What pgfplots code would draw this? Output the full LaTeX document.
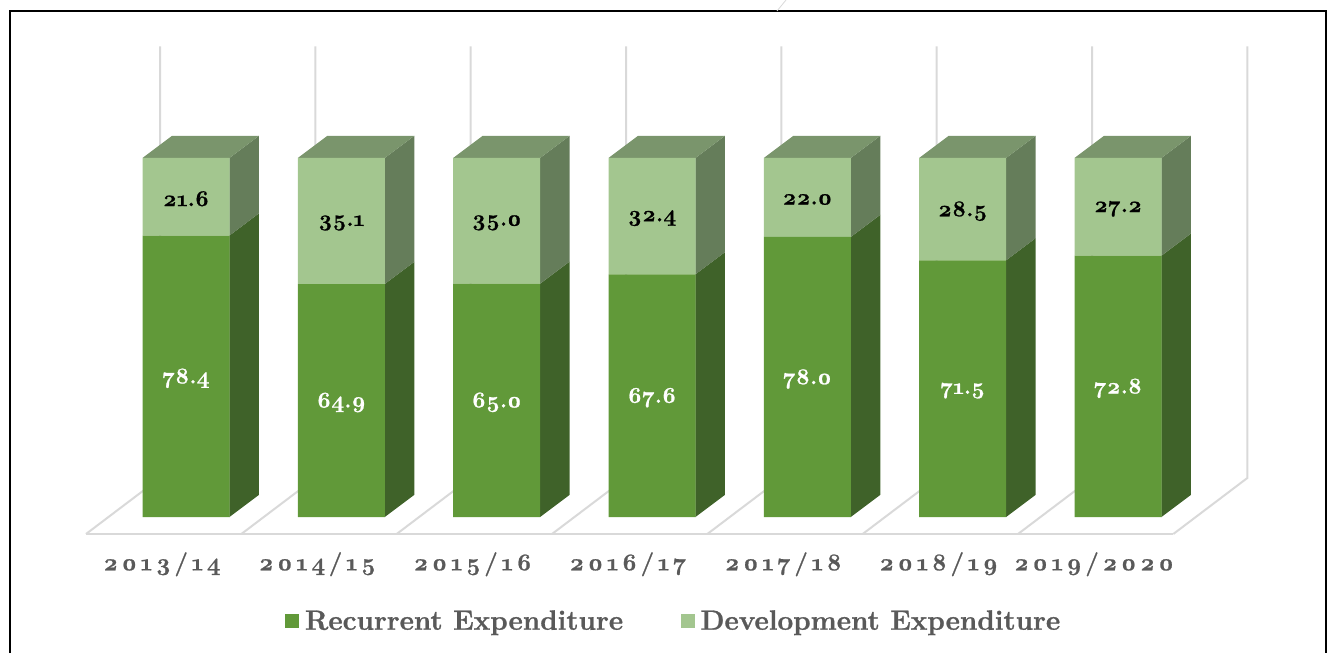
\documentclass[border=0pt]{standalone}
\usepackage{fontspec}
\setmainfont{Latin Modern Roman}[Numbers=OldStyle,BoldFeatures={FakeBold=1}]
\newfontfamily\tickfont{Latin Modern Roman}[Numbers=OldStyle,LetterSpace=15,BoldFeatures={FakeBold=1}]
\usepackage{pgfplots}
\usepackage{pgfplotstable}
\pgfplotsset{compat=1.18}
\definecolor{recf}{HTML}{619939}
\definecolor{devf}{HTML}{A3C68F}
\definecolor{recs}{HTML}{3F6229}
\definecolor{devs}{HTML}{657D5A}
\definecolor{topf}{HTML}{7A956C}
\definecolor{gridc}{HTML}{D9D9D9}
\definecolor{labc}{HTML}{595959}
\pgfplotstableread{
x rec dev
0 78.4 21.6
1 64.9 35.1
2 65.0 35.0
3 67.6 32.4
4 78.0 22.0
5 71.5 28.5
6 72.8 27.2
}\datatable
\pgfplotsset{base/.style={
  at={(0pt,89.25pt)},anchor=south west,scale only axis,
  width=999.75pt,height=400.5pt,
  xmin=-1.19745,xmax=7.38428,ymin=-4.735,ymax=144.011,
  clip=false}}
\begin{document}
\begin{tikzpicture}
\path[use as bounding box] (0pt,0pt) rectangle (999.75pt,489.75pt);
\begin{axis}[base,hide axis]
% wall lines and floor
\pgfplotsforeachungrouped \i in {0,...,7}{
  \pgfmathsetmacro\xw{\i-0.1674}
  \pgfmathsetmacro\xf{\i-0.6438}
  \edef\tmp{\noexpand\addplot[gridc,line width=1.5pt] coordinates {(\xw,131.06) (\xw,10.86) (\xf,-4.735)};}\tmp
}
\addplot[gridc,line width=1.5pt] coordinates {(-0.6438,-4.735) (6.3562,-4.735)};
% side and top faces
\pgfplotsforeachungrouped \i in {0,...,6}{
  \pgfplotstablegetelem{\i}{rec}\of\datatable \let\r=\pgfplotsretval
  \pgfmathsetmacro\xl{\i-0.28}
  \pgfmathsetmacro\xlb{\i-0.28+0.18992}
  \pgfmathsetmacro\xa{\i+0.28}
  \pgfmathsetmacro\xb{\i+0.28+0.18992}
  \pgfmathsetmacro\yb{\r+6.18}
  \edef\tmp{\noexpand\addplot[fill=recs,draw=none] coordinates {(\xa,0) (\xb,6.18) (\xb,\yb) (\xa,\r)} --cycle;}\tmp
  \edef\tmp{\noexpand\addplot[fill=devs,draw=none] coordinates {(\xa,\r) (\xb,\yb) (\xb,106.18) (\xa,100)} --cycle;}\tmp
  \edef\tmp{\noexpand\addplot[fill=topf,draw=none] coordinates {(\xl,100) (\xa,100) (\xb,106.18) (\xlb,106.18)} --cycle;}\tmp
}
\end{axis}
\begin{axis}[base,
  ybar stacked,bar width=65.25pt,
  axis line style={draw=none},major tick length=0pt,
  ytick=\empty,
  xtick={-0.155,0.845,1.845,2.845,3.845,4.845,5.845},
  xticklabels={2013/14,2014/15,2015/16,2016/17,2017/18,2018/19,2019/2020},
  xticklabel style={font=\tickfont\bfseries\fontsize{18}{20}\selectfont,text=labc,anchor=center,yshift=-22.7pt},
  nodes near coords,
  /pgf/number format/assume math mode=true,
  /pgf/number format/fixed,/pgf/number format/fixed zerofill,/pgf/number format/precision=1,
  every node near coord/.append style={anchor=center,yshift=-1.5pt,font=\bfseries\fontsize{17}{20}\selectfont},
  legend columns=2,
  legend style={at={(0.5056,-0.163)},anchor=center,draw=none,fill=none,
    font=\bfseries\fontsize{20.9}{25}\selectfont,text=labc,
    /tikz/column 2/.style={column sep=41pt}},
  legend image code/.code={\fill[#1] (0pt,-5.3pt) rectangle (10.5pt,5.2pt);\path (13pt,0pt);},
]
\addplot[fill=recf,draw=none,nodes near coords style={text=white}] table[x=x,y=rec]{\datatable};
\addplot[fill=devf,draw=none,nodes near coords style={text=black}] table[x=x,y=dev]{\datatable};
\legend{Recurrent Expenditure,Development Expenditure}
\end{axis}
% chart frame
\draw[black,line width=1.4pt] (7.5pt,0pt) -- (7.5pt,481.5pt) -- (994.5pt,481.5pt) -- (994.5pt,0pt);
\draw[gridc,line width=0.6pt] (582.75pt,481.5pt) -- (589.5pt,489.75pt);
\end{tikzpicture}
\end{document}
